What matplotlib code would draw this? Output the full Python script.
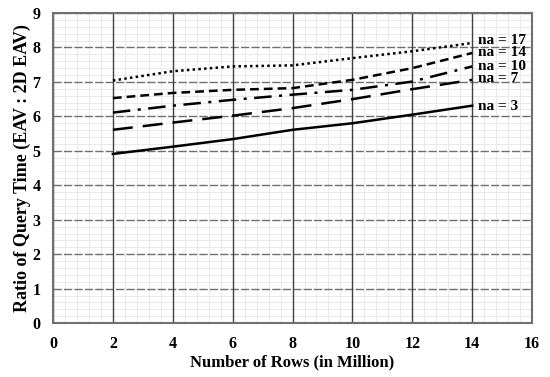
import numpy as np
import matplotlib.pyplot as plt
from matplotlib.ticker import MultipleLocator

# rows (million) and ratio per number of attributes
rows = [2, 4, 6, 8, 10, 12, 14]
na3 = [4.91, 5.12, 5.34, 5.61, 5.80, 6.05, 6.31]
na7 = [5.61, 5.82, 6.02, 6.24, 6.50, 6.79, 7.06]
na10 = [6.11, 6.31, 6.48, 6.63, 6.77, 7.01, 7.45]
na14 = [6.53, 6.68, 6.77, 6.82, 7.06, 7.40, 7.84]
na17 = [7.04, 7.31, 7.45, 7.48, 7.69, 7.89, 8.13]
labels = ["na = 3", "na = 7", "na = 10", "na = 14", "na = 17"]
label_y = [6.3, 7.1, 7.45, 7.85, 8.2]

plt.rcParams['font.family'] = ['Liberation Serif', 'DejaVu Serif']
plt.rcParams['font.weight'] = 'bold'

fig = plt.figure(figsize=(5.5, 3.77), dpi=100)
ax = fig.add_axes([0.0964, 0.143, 0.871, 0.8225])

ax.set_xlim(0, 16)
ax.set_ylim(0, 9)
ax.xaxis.set_major_locator(MultipleLocator(2))
ax.yaxis.set_major_locator(MultipleLocator(1))
ax.xaxis.set_minor_locator(MultipleLocator(0.4))
ax.yaxis.set_minor_locator(MultipleLocator(0.2))
ax.grid(which='minor', color='#e6e6e6', linewidth=0.6)
ax.set_axisbelow(True)

# major grid drawn on top of the minor one
for x in ax.get_xticks():
    ax.axvline(x, color='#404040', linewidth=1.0, zorder=0.8)
for y in ax.get_yticks():
    ax.axhline(y, color='#707070', linewidth=1.0, linestyle=(0, (6, 1.5)), zorder=0.7)

series = [na3, na7, na10, na14, na17]
styles = ['-', (0, (8, 4)), (0, (7, 3, 1.2, 3)), (0, (3.5, 2)), (0, (1, 1.3))]
for s, ls in zip(series, styles):
    ax.plot(rows, s, color='black', linestyle=ls, linewidth=1.8, zorder=3)

for lab, y in zip(labels, label_y):
    ax.text(14.2, y, lab, fontsize=11, fontweight='bold', va='center', ha='left', zorder=4)

ax.tick_params(which='both', length=0, labelsize=11.5)
ax.tick_params(axis='x', pad=9)
ax.tick_params(axis='y', pad=9)
for t in ax.get_xticklabels() + ax.get_yticklabels():
    t.set_fontweight('bold')
for sp in ax.spines.values():
    sp.set_color('#707070')
    sp.set_linewidth(1.5)
    sp.set_zorder(5)

ax.set_xlabel("Number of Rows (in Million)", fontsize=12, fontweight='bold', labelpad=2)
ax.set_ylabel("Ratio of Query Time (EAV : 2D EAV)", fontsize=13, fontweight='bold', labelpad=1)

fig.savefig("out.png", dpi=100)
